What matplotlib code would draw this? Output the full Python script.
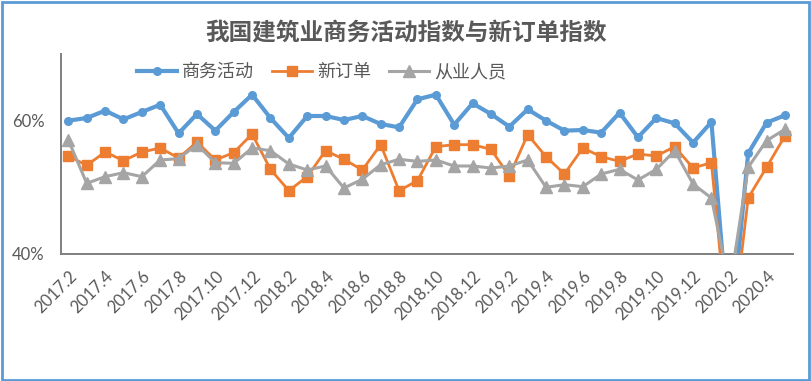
import matplotlib
matplotlib.use("Agg")
import matplotlib.pyplot as plt
from matplotlib.patches import Rectangle
from matplotlib.ticker import FuncFormatter, FixedLocator

plt.rcParams['font.family'] = ['Noto Sans CJK SC', 'DejaVu Sans']

months = ([f"2017.{m}" for m in range(2, 13)] + [f"2018.{m}" for m in range(1, 13)]
          + [f"2019.{m}" for m in range(1, 13)] + [f"2020.{m}" for m in range(1, 6)])

business = [60.0, 60.4, 61.5, 60.2, 61.3, 62.4, 58.1, 61.0, 58.5, 61.3, 63.9,
            60.4, 57.4, 60.7, 60.7, 60.1, 60.7, 59.5, 59.0, 63.2, 63.9, 59.4, 62.6,
            61.0, 59.1, 61.7, 60.0, 58.5, 58.6, 58.2, 61.2, 57.5, 60.4, 59.6, 56.7,
            59.8, 26.6, 55.1, 59.7, 60.8]
new_orders = [54.7, 53.3, 55.3, 54.0, 55.3, 55.9, 54.4, 56.8, 54.1, 55.2, 58.0,
              52.7, 49.5, 51.6, 55.5, 54.2, 52.6, 56.4, 49.5, 51.0, 56.1, 56.4, 56.4,
              55.7, 51.7, 57.9, 54.6, 52.0, 55.9, 54.6, 53.9, 55.0, 54.7, 56.1, 52.9,
              53.7, 25.0, 48.4, 53.0, 57.7]
employment = [57.1, 50.6, 51.6, 52.2, 51.6, 54.1, 54.3, 56.4, 53.7, 53.6, 55.9,
              55.5, 53.5, 52.6, 53.2, 49.9, 51.2, 53.4, 54.2, 53.9, 54.1, 53.2, 53.2,
              52.9, 53.2, 54.1, 50.0, 50.4, 50.1, 52.0, 52.7, 51.1, 52.7, 55.5, 50.5,
              48.4, 35.0, 53.0, 57.0, 58.7]

title = "我国建筑业商务活动指数与新订单指数"
series_names = ["商务活动", "新订单", "从业人员"]
yticks = [40, 60]

BLUE = "#5B9BD5"
ORANGE = "#ED7D31"
GRAY = "#A5A5A5"
TXT = "#595959"

fig = plt.figure(figsize=(8.12, 3.81), dpi=100)
ax = fig.add_axes([61 / 812, 1 - 254 / 381, (793 - 61) / 812, (254 - 54) / 381])

x = list(range(len(months)))
ax.plot(x, business, color=BLUE, lw=3.0, marker='o', ms=5.5, label=series_names[0],
        solid_joinstyle='round', zorder=3)
ax.plot(x, new_orders, color=ORANGE, lw=2.0, marker='s', ms=7.5, label=series_names[1],
        solid_joinstyle='round', zorder=4)
ax.plot(x, employment, color=GRAY, lw=2.2, marker='^', ms=8, label=series_names[2],
        solid_joinstyle='round', zorder=5)

ax.set_xlim(-0.4, 39.44)
ax.set_ylim(40, 70)
ax.yaxis.set_major_locator(FixedLocator(yticks))
ax.yaxis.set_major_formatter(FuncFormatter(lambda v, p: f"{v:.0f}%"))
ax.set_xticks(x[::2])
ax.set_xticklabels(months[::2], rotation=45, ha='right', rotation_mode='anchor',
                   family='Lato', fontsize=12, color=TXT)
for lab in ax.get_yticklabels():
    lab.set_family('Lato')
    lab.set_fontsize(12)
    lab.set_color(TXT)
ax.tick_params(axis='both', length=0)
ax.tick_params(axis='x', pad=10)
ax.tick_params(axis='y', pad=12)

for s in ['top', 'right']:
    ax.spines[s].set_visible(False)
for s in ['left', 'bottom']:
    ax.spines[s].set_color('#7F7F7F')
    ax.spines[s].set_linewidth(1.4)

fig.text(0.5, 1 - 33 / 381, title, ha='center', va='center', fontsize=17,
         fontweight='bold', color=TXT)

leg = fig.legend(loc='center left', bbox_to_anchor=(137 / 812, 1 - 72 / 381), ncol=3,
                 frameon=False, fontsize=13, handlelength=2.2, handletextpad=0.3,
                 columnspacing=1.0, borderpad=0, borderaxespad=0)
for t in leg.get_texts():
    t.set_color(TXT)

fig.patches.append(Rectangle((0.002, 0.003), 0.994, 0.993, transform=fig.transFigure,
                             fill=False, edgecolor=BLUE, lw=2.0))

fig.savefig("out.png", dpi=100)
